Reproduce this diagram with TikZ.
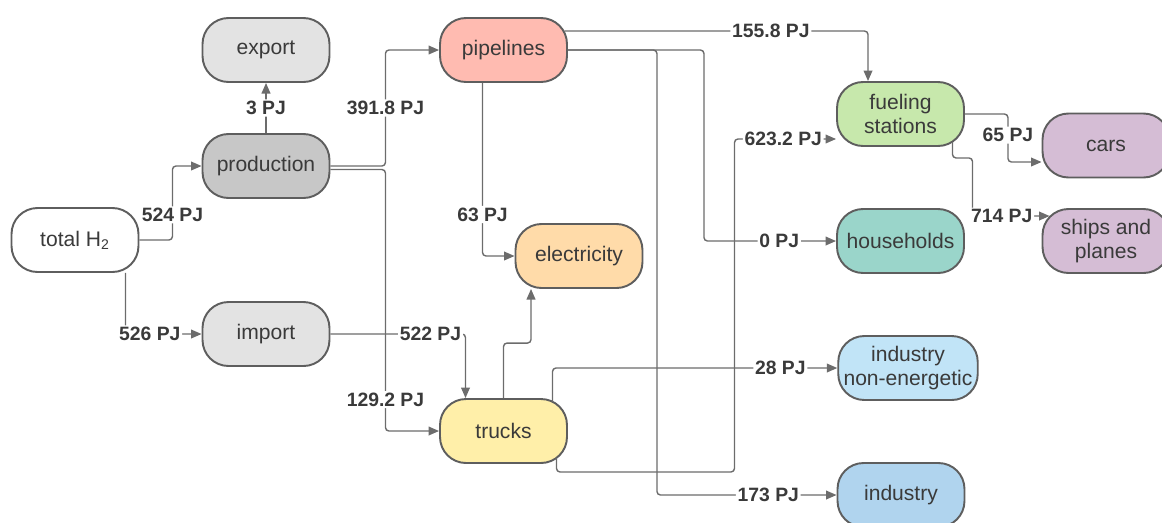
\documentclass[tikz,border=0pt]{standalone}
\usepackage{fontspec}
\setmainfont{Liberation Sans}
\usetikzlibrary{arrows.meta}
\definecolor{boxline}{HTML}{5E5E5E}
\definecolor{flowgray}{HTML}{6C6C6C}
\definecolor{txtgray}{HTML}{3A3A3A}
\definecolor{lightgray}{HTML}{E3E3E3}
\definecolor{midgray}{HTML}{C7C7C7}
\definecolor{pipered}{HTML}{FFBBB1}
\definecolor{elecorange}{HTML}{FFDBA9}
\definecolor{truckyellow}{HTML}{FFEFA9}
\definecolor{fuelgreen}{HTML}{C7E8AC}
\definecolor{houseteal}{HTML}{9AD5CA}
\definecolor{indneblue}{HTML}{C1E4F7}
\definecolor{indblue}{HTML}{B0D4EE}
\definecolor{usepurple}{HTML}{D5BDD5}

\begin{document}
\begin{tikzpicture}[x=0.02cm, y=-0.02cm,
	box/.style={draw=boxline, line width=1.1pt, rounded corners=0.52cm, minimum width=2.54cm, minimum height=1.28cm, inner xsep=3pt, align=center, text=txtgray, font=\fontsize{12}{14}\selectfont},
	flow/.style={draw=flowgray, line width=0.8pt, rounded corners=2pt, -{Triangle[length=6pt,width=5pt]}},
	lbl/.style={fill=white, inner sep=1pt, text=txtgray, font=\fontsize{11}{12}\selectfont\bfseries}]
	\useasboundingbox (0,0) rectangle (1162,522);
	\node[box, fill=white] (tot) at (75,240) {total H\textsubscript{2}};
	\node[box, fill=lightgray] (exp) at (266,50) {export};
	\node[box, fill=midgray] (prod) at (266,166) {production};
	\node[box, fill=lightgray] (imp) at (266,334) {import};
	\node[box, fill=pipered] (pipe) at (503.5,50) {pipelines};
	\node[box, fill=elecorange] (elec) at (579,256) {electricity};
	\node[box, fill=truckyellow] (truck) at (503.5,431) {trucks};
	\node[box, fill=fuelgreen] (fuel) at (900.5,114) {fueling\\stations};
	\node[box, fill=houseteal] (house) at (900.5,241) {households};
	\node[box, fill=indneblue] (indne) at (908,368) {industry\\non-energetic};
	\node[box, fill=indblue] (ind) at (901,495) {industry};
	\node[box, fill=usepurple] (cars) at (1106,145.5) {cars};
	\node[box, fill=usepurple] (ships) at (1106,241) {ships and\\planes};

	\draw[flow] (tot.east) -- ++(33,0) |- node[lbl, pos=0.17]{524 PJ} (prod.west);
	\draw[flow] ([xshift=-0.28cm]tot.south east) |- node[lbl, pos=0.66]{526 PJ} (imp.west);
	\draw[flow] (prod.north) -- node[lbl]{3 PJ} (exp.south);
	\draw[flow] (prod.east) -- ++(55,0) |- node[lbl, pos=0.25]{391.8 PJ} (pipe.west);
	\draw[flow] ([yshift=-2pt]prod.east) -- ++(55,0) |- node[lbl, pos=0.44]{129.2 PJ} (truck.west);
	\draw[flow] (imp.east) -| node[lbl, pos=0.37]{522 PJ} ([xshift=-0.76cm]truck.north);
	\draw[flow] ([xshift=-0.42cm]pipe.south) |- node[lbl, pos=0.38]{63 PJ} (elec.west);
	\draw[flow] ([xshift=-0.07cm,yshift=0.38cm]pipe.east) -| node[lbl, pos=0.34]{155.8 PJ} ([xshift=-0.65cm]fuel.north);
	\draw[flow] (pipe.east) -- ++(136,0) |- node[lbl, pos=0.785]{0 PJ} (house.west);
	\draw[flow] (pipe.east) -- ++(89,0) |- node[lbl, pos=0.81]{173 PJ} (ind.west);
	\draw[flow] (truck.north) -- ++(0,-55) -| ([xshift=-0.96cm]elec.south);
	\draw[flow] ([xshift=0.98cm,yshift=-0.08cm]truck.north) |- node[lbl, pos=0.9]{28 PJ} (indne.west);
	\draw[flow] ([xshift=1.06cm,yshift=0.12cm]truck.south) |- ++(178,14) |- node[lbl, pos=0.74]{623.2 PJ} ([yshift=-0.5cm]fuel.west);
	\draw[flow] (fuel.east) -- ++(43,0) |- node[lbl, pos=0.22]{65 PJ} ([yshift=-0.33cm]cars.west);
	\draw[flow] ([xshift=1.04cm,yshift=0.1cm]fuel.south) -- ++(0,16) -- ++(20,0) |- node[lbl, pos=0.69]{714 PJ} ([xshift=0.16cm,yshift=0.5cm]ships.west);
\end{tikzpicture}
\end{document}
